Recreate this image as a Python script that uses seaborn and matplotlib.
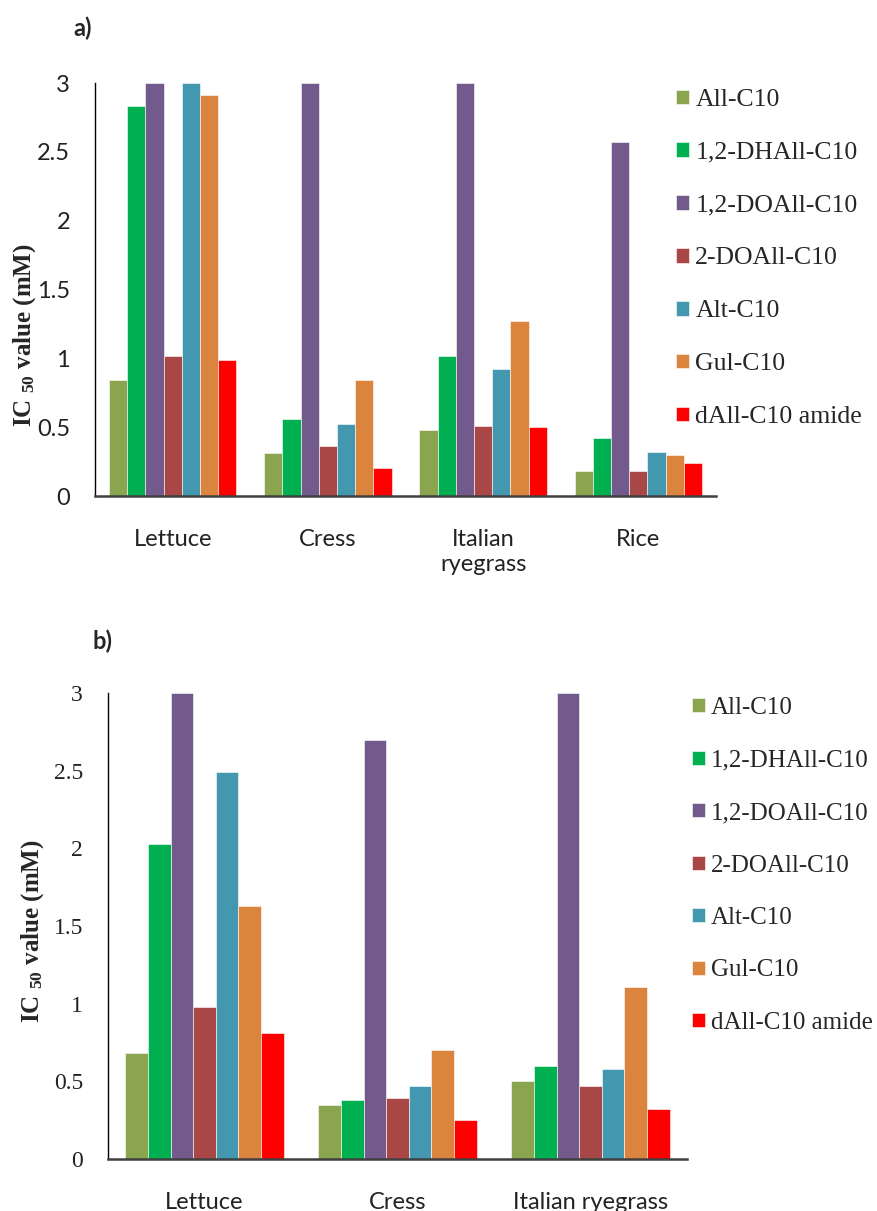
import numpy as np
import pandas as pd
import seaborn as sns
import matplotlib.pyplot as plt

# compostos e cores (mesma ordem da legenda)
compounds = ["All-C10", "1,2-DHAll-C10", "1,2-DOAll-C10", "2-DOAll-C10",
             "Alt-C10", "Gul-C10", "dAll-C10 amide"]
colors = ["#8BA54F", "#00B050", "#725A8D", "#A84745", "#4397AF", "#DB843E", "#FF0000"]

# painel a)
plants_a = ["Lettuce", "Cress", "Italian\nryegrass", "Rice"]
all_a = [0.84, 0.31, 0.48, 0.18]
dhall_a = [2.83, 0.56, 1.02, 0.42]
doall_a = [3.0, 3.0, 3.0, 2.57]
do2_a = [1.02, 0.36, 0.51, 0.18]
alt_a = [3.0, 0.52, 0.92, 0.32]
gul_a = [2.91, 0.84, 1.27, 0.30]
amide_a = [0.99, 0.20, 0.50, 0.24]

# painel b)
plants_b = ["Lettuce", "Cress", "Italian ryegrass"]
all_b = [0.68, 0.35, 0.50]
dhall_b = [2.03, 0.38, 0.60]
doall_b = [3.0, 2.70, 3.0]
do2_b = [0.98, 0.39, 0.47]
alt_b = [2.49, 0.47, 0.58]
gul_b = [1.63, 0.70, 1.11]
amide_b = [0.81, 0.25, 0.32]

yticks = [0, 0.5, 1, 1.5, 2, 2.5, 3]
ytick_labels = ["0", "0.5", "1", "1.5", "2", "2.5", "3"]


def long_table(plants, series):
    rows = []
    for comp, vals in zip(compounds, series):
        for p, v in zip(plants, vals):
            rows.append({"Plant": p, "Compound": comp, "IC50": v})
    return pd.DataFrame(rows)


df_a = long_table(plants_a, [all_a, dhall_a, doall_a, do2_a, alt_a, gul_a, amide_a])
df_b = long_table(plants_b, [all_b, dhall_b, doall_b, do2_b, alt_b, gul_b, amide_b])

sns.set_style("white")
plt.rcParams['font.family'] = ['Lato', 'DejaVu Sans']
plt.rcParams['mathtext.default'] = 'regular'

W, H = 877, 1211
fig = plt.figure(figsize=(W / 100, H / 100), dpi=100)

sans = "Lato"
serif = "Liberation Serif"


def panel(df, plants, rect, width, tick_family, ylab_xy, leg_xy, leg_size, leg_space):
    x0, y0, x1, y1 = rect
    ax = fig.add_axes([x0 / W, 1 - y1 / H, (x1 - x0) / W, (y1 - y0) / H])
    sns.barplot(data=df, x="Plant", y="IC50", hue="Compound", order=plants,
                hue_order=compounds, palette=colors, saturation=1, width=width,
                gap=0, edgecolor="white", linewidth=0.4, errorbar=None, ax=ax)
    ax.set_ylim(0, 3)
    ax.set_xlim(-0.5, len(plants) - 0.5)
    ax.set_yticks(yticks)
    ax.set_yticklabels(ytick_labels, fontfamily=tick_family, fontsize=17, color="#222222")
    ax.tick_params(axis="y", length=0, pad=18)
    ax.tick_params(axis="x", length=0, pad=24, labelsize=17)
    for lab in ax.get_xticklabels():
        lab.set_fontfamily(sans)
        lab.set_color("#222222")
    ax.set_xlabel("")
    ax.set_ylabel("IC $_{50}$ value (mM)", fontfamily=serif, fontweight="bold", fontsize=18)
    ax.yaxis.set_label_coords(ylab_xy[0], ylab_xy[1])
    for s in ["top", "right"]:
        ax.spines[s].set_visible(False)
    ax.spines["left"].set_color("black")
    ax.spines["left"].set_linewidth(1.0)
    ax.spines["bottom"].set_color("#404040")
    ax.spines["bottom"].set_linewidth(1.8)
    sns.move_legend(ax, loc="upper left", bbox_to_anchor=(leg_xy[0] / W, 1 - leg_xy[1] / H),
                    bbox_transform=fig.transFigure, frameon=False, title=None,
                    prop={"family": serif, "size": leg_size}, handlelength=0.5, handleheight=0.5,
                    handletextpad=0.25, labelspacing=leg_space, borderpad=0, borderaxespad=0)
    return ax


ax_a = panel(df_a, plants_a, (95, 83, 716, 496), 0.82, sans, (-0.092, 0.39), (676, 89), 18.5, 1.2)
ax_b = panel(df_b, plants_b, (108, 693, 687, 1159), 0.82, serif, (-0.107, 0.49), (692, 697), 18, 1.22)

fig.text(83 / W, 1 - 28 / H, "a)", fontfamily=sans, fontweight="bold", fontsize=17,
         ha="center", va="center")
fig.text(103 / W, 1 - 641 / H, "b)", fontfamily=sans, fontweight="bold", fontsize=17,
         ha="center", va="center")

fig.savefig("out.png", dpi=100)
